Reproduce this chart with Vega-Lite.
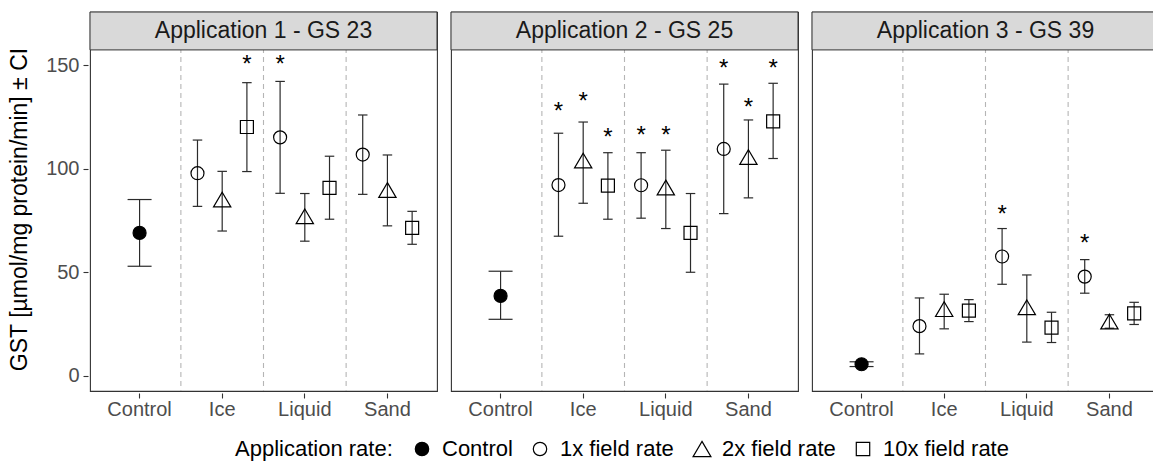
{
  "$schema": "https://vega.github.io/schema/vega-lite/v6.json",
  "padding": {"left": 8, "top": 10, "right": 1, "bottom": 4},
  "data": {"values": [
    {"app": "Application 1 - GS 23", "cat": "Control", "rate": "Control", "mean": 69.0, "lo": 52.9, "hi": 85.1, "star": null},
    {"app": "Application 1 - GS 23", "cat": "Ice", "rate": "1x field rate", "mean": 97.8, "lo": 81.8, "hi": 113.8, "star": null},
    {"app": "Application 1 - GS 23", "cat": "Ice", "rate": "2x field rate", "mean": 85.1, "lo": 69.9, "hi": 98.7, "star": null},
    {"app": "Application 1 - GS 23", "cat": "Ice", "rate": "10x field rate", "mean": 120.1, "lo": 98.6, "hi": 141.5, "star": 150.5},
    {"app": "Application 1 - GS 23", "cat": "Liquid", "rate": "1x field rate", "mean": 115.1, "lo": 88.1, "hi": 142.1, "star": 150.5},
    {"app": "Application 1 - GS 23", "cat": "Liquid", "rate": "2x field rate", "mean": 77.0, "lo": 65.0, "hi": 88.0, "star": null},
    {"app": "Application 1 - GS 23", "cat": "Liquid", "rate": "10x field rate", "mean": 90.7, "lo": 75.6, "hi": 106.0, "star": null},
    {"app": "Application 1 - GS 23", "cat": "Sand", "rate": "1x field rate", "mean": 106.8, "lo": 87.6, "hi": 125.9, "star": null},
    {"app": "Application 1 - GS 23", "cat": "Sand", "rate": "2x field rate", "mean": 89.7, "lo": 72.4, "hi": 106.6, "star": null},
    {"app": "Application 1 - GS 23", "cat": "Sand", "rate": "10x field rate", "mean": 71.4, "lo": 63.5, "hi": 79.4, "star": null},
    {"app": "Application 2 - GS 25", "cat": "Control", "rate": "Control", "mean": 38.6, "lo": 27.3, "hi": 50.5, "star": null},
    {"app": "Application 2 - GS 25", "cat": "Ice", "rate": "1x field rate", "mean": 92.1, "lo": 67.4, "hi": 117.1, "star": 128.0},
    {"app": "Application 2 - GS 25", "cat": "Ice", "rate": "2x field rate", "mean": 103.9, "lo": 83.3, "hi": 122.5, "star": 132.8},
    {"app": "Application 2 - GS 25", "cat": "Ice", "rate": "10x field rate", "mean": 91.8, "lo": 75.6, "hi": 107.7, "star": 115.5},
    {"app": "Application 2 - GS 25", "cat": "Liquid", "rate": "1x field rate", "mean": 92.0, "lo": 76.1, "hi": 107.7, "star": 116.2},
    {"app": "Application 2 - GS 25", "cat": "Liquid", "rate": "2x field rate", "mean": 90.9, "lo": 71.1, "hi": 108.9, "star": 116.2},
    {"app": "Application 2 - GS 25", "cat": "Liquid", "rate": "10x field rate", "mean": 69.0, "lo": 50.0, "hi": 88.0, "star": null},
    {"app": "Application 2 - GS 25", "cat": "Sand", "rate": "1x field rate", "mean": 109.5, "lo": 78.3, "hi": 140.8, "star": 148.4},
    {"app": "Application 2 - GS 25", "cat": "Sand", "rate": "2x field rate", "mean": 105.6, "lo": 85.9, "hi": 123.5, "star": 129.9},
    {"app": "Application 2 - GS 25", "cat": "Sand", "rate": "10x field rate", "mean": 122.8, "lo": 104.9, "hi": 141.2, "star": 148.6},
    {"app": "Application 3 - GS 39", "cat": "Control", "rate": "Control", "mean": 5.6, "lo": 4.5, "hi": 6.8, "star": null},
    {"app": "Application 3 - GS 39", "cat": "Ice", "rate": "1x field rate", "mean": 24.0, "lo": 10.6, "hi": 37.6, "star": null},
    {"app": "Application 3 - GS 39", "cat": "Ice", "rate": "2x field rate", "mean": 32.2, "lo": 22.7, "hi": 39.4, "star": null},
    {"app": "Application 3 - GS 39", "cat": "Ice", "rate": "10x field rate", "mean": 31.5, "lo": 26.2, "hi": 36.8, "star": null},
    {"app": "Application 3 - GS 39", "cat": "Liquid", "rate": "1x field rate", "mean": 57.6, "lo": 44.2, "hi": 71.1, "star": 78.0},
    {"app": "Application 3 - GS 39", "cat": "Liquid", "rate": "2x field rate", "mean": 33.1, "lo": 16.3, "hi": 48.7, "star": null},
    {"app": "Application 3 - GS 39", "cat": "Liquid", "rate": "10x field rate", "mean": 23.3, "lo": 16.1, "hi": 30.7, "star": null},
    {"app": "Application 3 - GS 39", "cat": "Sand", "rate": "1x field rate", "mean": 47.9, "lo": 39.9, "hi": 56.1, "star": 64.2},
    {"app": "Application 3 - GS 39", "cat": "Sand", "rate": "2x field rate", "mean": 26.2, "lo": 23.0, "hi": 29.5, "star": null},
    {"app": "Application 3 - GS 39", "cat": "Sand", "rate": "10x field rate", "mean": 30.2, "lo": 24.8, "hi": 35.5, "star": null}
  ]},
  "facet": {"column": {"field": "app", "type": "nominal", "header": {"title": null, "labels": false}}},
  "spacing": 10,
  "spec": {
    "width": 347,
    "height": 379,
    "layer": [
      {
        "transform": [{"filter": "datum.cat != 'Control' && datum.rate == '1x field rate'"}],
        "mark": {"type": "rule", "color": "#b5b5b5", "strokeDash": [5, 4], "strokeWidth": 1.1},
        "encoding": {
          "x": {"field": "cat", "type": "nominal", "bandPosition": 0, "title": null, "scale": {"domain": ["Control", "Ice", "Liquid", "Sand"], "paddingInner": 0, "paddingOuter": 0.1}}
        }
      },
      {
        "transform": [{"filter": "datum.rate == 'Control'"}],
        "mark": {"type": "rect", "fill": "#d9d9d9", "stroke": "#333333", "strokeWidth": 1},
        "encoding": {
          "y": {"datum": 157.3, "type": "quantitative", "title": "GST [µmol/mg protein/min] ± CI", "axis": {"values": [0, 50, 100, 150], "titleY": 197}},
          "y2": {"datum": 175.6}
        }
      },
      {
        "transform": [{"filter": "datum.rate == 'Control'"}],
        "mark": {"type": "text", "fontSize": 23, "color": "#1a1a1a", "baseline": "middle"},
        "encoding": {
          "y": {"datum": 166.6, "type": "quantitative", "title": "GST [µmol/mg protein/min] ± CI"},
          "text": {"field": "app"}
        }
      },
      {
        "transform": [{"filter": "datum.rate == 'Control'"}],
        "mark": {"type": "rule", "color": "#2b2b2b", "strokeWidth": 1.2},
        "encoding": {
          "x": {"field": "cat", "type": "nominal", "title": null},
          "y": {"field": "lo", "type": "quantitative", "title": "GST [µmol/mg protein/min] ± CI", "scale": {"domain": [-7.3, 175.6], "nice": false, "zero": false}},
          "y2": {"field": "hi"}
        }
      },
      {
        "transform": [{"filter": "datum.rate == 'Control'"}],
        "mark": {"type": "tick", "color": "#2b2b2b", "size": 24, "thickness": 1.2, "opacity": 1},
        "encoding": {
          "x": {"field": "cat", "type": "nominal", "title": null},
          "y": {"field": "lo", "type": "quantitative", "title": "GST [µmol/mg protein/min] ± CI"}
        }
      },
      {
        "transform": [{"filter": "datum.rate == 'Control'"}],
        "mark": {"type": "tick", "color": "#2b2b2b", "size": 24, "thickness": 1.2, "opacity": 1},
        "encoding": {
          "x": {"field": "cat", "type": "nominal", "title": null},
          "y": {"field": "hi", "type": "quantitative", "title": "GST [µmol/mg protein/min] ± CI"}
        }
      },
      {
        "transform": [{"filter": "datum.rate != 'Control'"}],
        "mark": {"type": "rule", "color": "#2b2b2b", "strokeWidth": 1.2},
        "encoding": {
          "x": {"field": "cat", "type": "nominal", "title": null},
          "xOffset": {"field": "rate", "type": "nominal", "scale": {"domain": ["1x field rate", "2x field rate", "10x field rate"], "paddingInner": 0, "paddingOuter": 0.172}},
          "y": {"field": "lo", "type": "quantitative", "title": "GST [µmol/mg protein/min] ± CI"},
          "y2": {"field": "hi"}
        }
      },
      {
        "transform": [{"filter": "datum.rate != 'Control'"}],
        "mark": {"type": "tick", "color": "#2b2b2b", "size": 9.5, "thickness": 1.2, "opacity": 1},
        "encoding": {
          "x": {"field": "cat", "type": "nominal", "title": null},
          "xOffset": {"field": "rate", "type": "nominal"},
          "y": {"field": "lo", "type": "quantitative", "title": "GST [µmol/mg protein/min] ± CI"}
        }
      },
      {
        "transform": [{"filter": "datum.rate != 'Control'"}],
        "mark": {"type": "tick", "color": "#2b2b2b", "size": 9.5, "thickness": 1.2, "opacity": 1},
        "encoding": {
          "x": {"field": "cat", "type": "nominal", "title": null},
          "xOffset": {"field": "rate", "type": "nominal"},
          "y": {"field": "hi", "type": "quantitative", "title": "GST [µmol/mg protein/min] ± CI"}
        }
      },
      {
        "transform": [{"filter": "datum.rate == 'Control'"}],
        "mark": {"type": "point", "filled": true, "size": 169, "strokeWidth": 1.2, "opacity": 1},
        "encoding": {
          "x": {"field": "cat", "type": "nominal", "title": null},
          "y": {"field": "mean", "type": "quantitative", "title": "GST [µmol/mg protein/min] ± CI"},
          "shape": {"field": "rate", "type": "nominal", "title": "Application rate:", "scale": {"domain": ["Control", "1x field rate", "2x field rate", "10x field rate"], "range": ["circle", "circle", "M0,-1.13L1.33,1.13L-1.33,1.13Z", "square"]}},
          "fill": {"field": "rate", "type": "nominal", "title": "Application rate:", "scale": {"domain": ["Control", "1x field rate", "2x field rate", "10x field rate"], "range": ["#000000", "transparent", "transparent", "transparent"]}},
          "stroke": {"field": "rate", "type": "nominal", "title": "Application rate:", "scale": {"domain": ["Control", "1x field rate", "2x field rate", "10x field rate"], "range": ["#000000", "#000000", "#000000", "#000000"]}}
        }
      },
      {
        "transform": [{"filter": "datum.rate != 'Control'"}],
        "mark": {"type": "point", "filled": true, "size": 169, "strokeWidth": 1.2, "opacity": 1},
        "encoding": {
          "x": {"field": "cat", "type": "nominal", "title": null},
          "xOffset": {"field": "rate", "type": "nominal"},
          "y": {"field": "mean", "type": "quantitative", "title": "GST [µmol/mg protein/min] ± CI"},
          "shape": {"field": "rate", "type": "nominal", "title": "Application rate:"},
          "fill": {"field": "rate", "type": "nominal", "title": "Application rate:"},
          "stroke": {"field": "rate", "type": "nominal", "title": "Application rate:"}
        }
      },
      {
        "transform": [{"filter": "datum.star != null"}],
        "mark": {"type": "text", "text": "*", "fontSize": 24, "color": "#000000", "baseline": "middle", "dy": 1},
        "encoding": {
          "x": {"field": "cat", "type": "nominal", "title": null},
          "xOffset": {"field": "rate", "type": "nominal"},
          "y": {"field": "star", "type": "quantitative", "title": "GST [µmol/mg protein/min] ± CI"}
        }
      }
    ]
  },
  "config": {
    "font": "Liberation Sans",
    "view": {"stroke": "#333333", "strokeWidth": 1.1},
    "axis": {"domain": false, "grid": false, "tickColor": "#333333", "tickSize": 5, "tickWidth": 1.1, "labelColor": "#4d4d4d", "labelFontSize": 20, "labelFont": "Liberation Sans", "titleFont": "Liberation Sans", "titleFontSize": 23, "titleFontWeight": "normal", "titleColor": "#000000"},
    "axisX": {"labelPadding": 1, "labelAngle": 0},
    "axisY": {"labelPadding": 4, "titlePadding": 14},
    "legend": {"orient": "none", "legendX": 145, "legendY": 426, "direction": "horizontal", "titleOrient": "left", "titleFontSize": 22, "titleFontWeight": "normal", "titleColor": "#000000", "labelFontSize": 22, "labelColor": "#000000", "symbolSize": 180, "symbolStrokeWidth": 1.2, "labelOffset": 9, "columnPadding": 16, "titlePadding": 18}
  }
}
